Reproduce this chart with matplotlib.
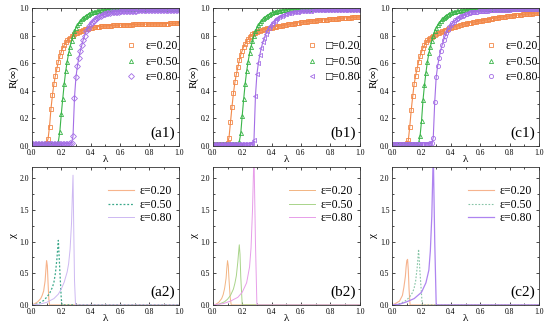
import matplotlib
matplotlib.use("Agg")
import matplotlib.pyplot as plt
from matplotlib.ticker import MultipleLocator, FormatStrFormatter

#################### データ ####################
# 上段の横軸 (0.01刻み)
lam_top = [i / 100 for i in range(101)]

eps_labels = ["ε=0.20", "ε=0.50", "ε=0.80"]
eps_labels_b = ["\u25a1=0.20", "\u25a1=0.50", "\u25a1=0.80"]

# (a1) R(inf)
a1_e20 = [0.01, 0.01, 0.01, 0.01, 0.01, 0.01, 0.01, 0.01, 0.01, 0.01,
          0.02, 0.05, 0.14, 0.27, 0.37, 0.45, 0.51, 0.56, 0.61, 0.65,
          0.68, 0.71, 0.73, 0.75, 0.765, 0.775, 0.785, 0.795, 0.80, 0.81,
          0.815, 0.82, 0.826, 0.831, 0.836, 0.840, 0.844, 0.847, 0.850, 0.853,
          0.855, 0.857, 0.859, 0.861, 0.862, 0.864, 0.865, 0.866, 0.867, 0.868,
          0.869, 0.870, 0.871, 0.872, 0.872, 0.873, 0.874, 0.874, 0.875, 0.875,
          0.876, 0.876, 0.877, 0.877, 0.878, 0.878, 0.879, 0.879, 0.879, 0.880,
          0.880, 0.881, 0.881, 0.881, 0.882, 0.882, 0.882, 0.883, 0.883, 0.883,
          0.884, 0.884, 0.884, 0.885, 0.885, 0.885, 0.885, 0.886, 0.886, 0.886,
          0.887, 0.887, 0.887, 0.887, 0.888, 0.888, 0.888, 0.888, 0.889, 0.889, 0.889]
a1_e50 = [0.01, 0.01, 0.01, 0.01, 0.01, 0.01, 0.01, 0.01, 0.01, 0.01,
          0.01, 0.01, 0.01, 0.01, 0.01, 0.01, 0.01, 0.012, 0.03, 0.10,
          0.23, 0.34, 0.45, 0.54, 0.61, 0.67, 0.72, 0.76, 0.80, 0.83,
          0.855, 0.875, 0.89, 0.905, 0.918, 0.928, 0.937, 0.945, 0.952, 0.958,
          0.963, 0.967, 0.971, 0.974, 0.977, 0.979, 0.981, 0.983, 0.985, 0.986,
          0.987, 0.988, 0.989, 0.990, 0.990, 0.991, 0.991, 0.992, 0.992, 0.992,
          0.993, 0.993, 0.993, 0.993, 0.993, 0.993, 0.993, 0.993, 0.993, 0.993,
          0.993, 0.993, 0.994, 0.994, 0.994, 0.994, 0.994, 0.994, 0.994, 0.994,
          0.994, 0.994, 0.994, 0.994, 0.995, 0.995, 0.995, 0.995, 0.995, 0.995,
          0.995, 0.995, 0.995, 0.995, 0.995, 0.995, 0.995, 0.995, 0.995, 0.995, 0.995]
a1_e80 = [0.01, 0.01, 0.01, 0.01, 0.01, 0.01, 0.01, 0.01, 0.01, 0.01,
          0.01, 0.01, 0.01, 0.01, 0.01, 0.01, 0.01, 0.01, 0.01, 0.01,
          0.012, 0.013, 0.014, 0.015, 0.016, 0.017, 0.019, 0.022, 0.07, 0.35,
          0.50, 0.58, 0.64, 0.69, 0.73, 0.77, 0.80, 0.83, 0.85, 0.87,
          0.885, 0.897, 0.908, 0.918, 0.926, 0.933, 0.939, 0.944, 0.949, 0.953,
          0.957, 0.960, 0.963, 0.965, 0.967, 0.969, 0.971, 0.972, 0.973, 0.974,
          0.975, 0.976, 0.977, 0.978, 0.978, 0.979, 0.979, 0.980, 0.980, 0.981,
          0.981, 0.981, 0.982, 0.982, 0.982, 0.982, 0.983, 0.983, 0.983, 0.983,
          0.983, 0.984, 0.984, 0.984, 0.984, 0.984, 0.984, 0.985, 0.985, 0.985,
          0.985, 0.985, 0.985, 0.985, 0.985, 0.985, 0.985, 0.985, 0.985, 0.985, 0.985]

# (b1) R(inf)
b1_e20 = [0.01, 0.01, 0.01, 0.01, 0.01, 0.01, 0.01, 0.01, 0.01, 0.01,
          0.02, 0.06, 0.17, 0.28, 0.38, 0.46, 0.52, 0.57, 0.62, 0.66,
          0.69, 0.72, 0.74, 0.76, 0.775, 0.79, 0.80, 0.81, 0.815, 0.82,
          0.825, 0.83, 0.834, 0.838, 0.842, 0.845, 0.848, 0.851, 0.854, 0.856,
          0.858, 0.860, 0.862, 0.864, 0.866, 0.868, 0.870, 0.872, 0.874, 0.876,
          0.878, 0.880, 0.882, 0.884, 0.886, 0.887, 0.889, 0.890, 0.892, 0.893,
          0.895, 0.896, 0.898, 0.899, 0.900, 0.902, 0.903, 0.904, 0.905, 0.906,
          0.907, 0.909, 0.910, 0.911, 0.912, 0.913, 0.914, 0.915, 0.916, 0.917,
          0.918, 0.919, 0.920, 0.921, 0.922, 0.923, 0.924, 0.925, 0.926, 0.927,
          0.928, 0.928, 0.929, 0.930, 0.930, 0.931, 0.932, 0.932, 0.933, 0.934, 0.935]
b1_e50 = [0.01, 0.01, 0.01, 0.01, 0.01, 0.01, 0.01, 0.01, 0.01, 0.01,
          0.01, 0.01, 0.01, 0.01, 0.01, 0.01, 0.01, 0.012, 0.03, 0.09,
          0.22, 0.34, 0.45, 0.54, 0.61, 0.67, 0.72, 0.76, 0.80, 0.83,
          0.855, 0.875, 0.89, 0.905, 0.918, 0.928, 0.937, 0.945, 0.952, 0.958,
          0.963, 0.967, 0.971, 0.974, 0.977, 0.979, 0.981, 0.983, 0.985, 0.986,
          0.987, 0.988, 0.989, 0.990, 0.990, 0.991, 0.991, 0.992, 0.992, 0.992,
          0.993, 0.993, 0.993, 0.993, 0.993, 0.993, 0.993, 0.993, 0.993, 0.993,
          0.993, 0.993, 0.994, 0.994, 0.994, 0.994, 0.994, 0.994, 0.994, 0.994,
          0.994, 0.994, 0.994, 0.994, 0.995, 0.995, 0.995, 0.995, 0.995, 0.995,
          0.995, 0.995, 0.995, 0.995, 0.995, 0.995, 0.995, 0.995, 0.995, 0.995, 0.995]
b1_e80 = [0.01, 0.01, 0.01, 0.01, 0.01, 0.01, 0.01, 0.01, 0.01, 0.01,
          0.01, 0.01, 0.01, 0.01, 0.01, 0.01, 0.01, 0.01, 0.01, 0.01,
          0.012, 0.013, 0.014, 0.015, 0.016, 0.017, 0.019, 0.022, 0.04, 0.36,
          0.52, 0.60, 0.66, 0.71, 0.75, 0.78, 0.81, 0.835, 0.855, 0.87,
          0.885, 0.897, 0.908, 0.918, 0.926, 0.933, 0.939, 0.945, 0.950, 0.954,
          0.958, 0.961, 0.964, 0.966, 0.968, 0.970, 0.972, 0.973, 0.974, 0.975,
          0.976, 0.977, 0.978, 0.979, 0.980, 0.980, 0.981, 0.981, 0.982, 0.982,
          0.983, 0.983, 0.983, 0.984, 0.984, 0.984, 0.984, 0.985, 0.985, 0.985,
          0.985, 0.986, 0.986, 0.986, 0.986, 0.986, 0.986, 0.987, 0.987, 0.987,
          0.987, 0.987, 0.987, 0.987, 0.987, 0.987, 0.987, 0.987, 0.987, 0.987, 0.987]

# (c1) R(inf)
c1_e20 = [0.01, 0.01, 0.01, 0.01, 0.01, 0.01, 0.01, 0.01, 0.01, 0.01,
          0.02, 0.04, 0.14, 0.26, 0.36, 0.45, 0.51, 0.56, 0.61, 0.65,
          0.68, 0.71, 0.73, 0.75, 0.765, 0.775, 0.785, 0.792, 0.798, 0.804,
          0.81, 0.815, 0.82, 0.825, 0.83, 0.835, 0.839, 0.843, 0.847, 0.851,
          0.855, 0.859, 0.862, 0.865, 0.868, 0.871, 0.874, 0.877, 0.880, 0.883,
          0.886, 0.888, 0.890, 0.892, 0.894, 0.896, 0.898, 0.900, 0.902, 0.904,
          0.906, 0.908, 0.910, 0.912, 0.914, 0.916, 0.918, 0.920, 0.922, 0.924,
          0.926, 0.928, 0.930, 0.931, 0.933, 0.934, 0.936, 0.937, 0.939, 0.940,
          0.942, 0.943, 0.944, 0.946, 0.947, 0.948, 0.949, 0.951, 0.952, 0.953,
          0.954, 0.955, 0.956, 0.957, 0.958, 0.959, 0.960, 0.961, 0.962, 0.963,
          0.964]
c1_e50 = [0.01, 0.01, 0.01, 0.01, 0.01, 0.01, 0.01, 0.01, 0.01, 0.01,
          0.01, 0.01, 0.01, 0.01, 0.01, 0.01, 0.01, 0.012, 0.02, 0.07,
          0.18, 0.33, 0.44, 0.53, 0.61, 0.67, 0.72, 0.76, 0.80, 0.83,
          0.855, 0.875, 0.89, 0.905, 0.918, 0.928, 0.937, 0.945, 0.952, 0.958,
          0.963, 0.967, 0.971, 0.974, 0.977, 0.979, 0.981, 0.983, 0.985, 0.986,
          0.987, 0.988, 0.989, 0.990, 0.990, 0.991, 0.991, 0.992, 0.992, 0.992,
          0.993, 0.993, 0.993, 0.993, 0.993, 0.993, 0.993, 0.993, 0.993, 0.993,
          0.993, 0.993, 0.994, 0.994, 0.994, 0.994, 0.994, 0.994, 0.994, 0.994,
          0.994, 0.994, 0.994, 0.994, 0.995, 0.995, 0.995, 0.995, 0.995, 0.995,
          0.995, 0.995, 0.995, 0.995, 0.995, 0.995, 0.995, 0.995, 0.995, 0.995, 0.995]
c1_e80 = [0.01, 0.01, 0.01, 0.01, 0.01, 0.01, 0.01, 0.01, 0.01, 0.01,
          0.01, 0.01, 0.01, 0.01, 0.01, 0.01, 0.01, 0.01, 0.01, 0.01,
          0.012, 0.013, 0.014, 0.015, 0.016, 0.017, 0.019, 0.022, 0.06, 0.32,
          0.50, 0.58, 0.64, 0.69, 0.73, 0.765, 0.795, 0.82, 0.84, 0.86,
          0.875, 0.888, 0.90, 0.91, 0.918, 0.925, 0.932, 0.938, 0.943, 0.948,
          0.953, 0.957, 0.961, 0.964, 0.967, 0.969, 0.971, 0.973, 0.974, 0.975,
          0.976, 0.977, 0.978, 0.979, 0.980, 0.981, 0.982, 0.983, 0.983, 0.984,
          0.985, 0.985, 0.986, 0.986, 0.987, 0.987, 0.987, 0.988, 0.988, 0.988,
          0.988, 0.989, 0.989, 0.989, 0.989, 0.989, 0.990, 0.990, 0.990, 0.990,
          0.990, 0.990, 0.990, 0.990, 0.990, 0.990, 0.990, 0.990, 0.990, 0.990, 0.990]

# (a2) chi
lam_a2_e20 = [0.0, 0.02, 0.04, 0.06, 0.07, 0.08, 0.09, 0.095, 0.10, 0.105, 0.11, 0.115, 0.12, 0.4, 0.7, 1.0]
chi_a2_e20 = [0.0, 0.02, 0.05, 0.10, 0.15, 0.22, 0.38, 0.55, 0.70, 0.62, 0.35, 0.10, 0.0, 0.0, 0.0, 0.0]
lam_a2_e50 = [0.0, 0.03, 0.06, 0.08, 0.10, 0.12, 0.14, 0.15, 0.16, 0.17, 0.18, 0.19, 0.20, 0.205, 0.4, 0.7, 1.0]
chi_a2_e50 = [0.0, 0.01, 0.04, 0.07, 0.12, 0.18, 0.28, 0.36, 0.50, 0.72, 1.02, 0.55, 0.10, 0.0, 0.0, 0.0, 0.0]
lam_a2_e80 = [0.0, 0.05, 0.10, 0.15, 0.18, 0.20, 0.22, 0.24, 0.25, 0.26, 0.27, 0.275, 0.28, 0.285, 0.29, 0.297, 0.5, 1.0]
chi_a2_e80 = [0.0, 0.01, 0.04, 0.10, 0.17, 0.25, 0.36, 0.52, 0.65, 0.88, 1.30, 1.70, 2.05, 1.20, 0.40, 0.0, 0.0, 0.0]

# (b2) chi
lam_b2_e20 = [0.0, 0.02, 0.04, 0.06, 0.07, 0.08, 0.09, 0.095, 0.10, 0.105, 0.11, 0.118, 0.125, 0.4, 0.7, 1.0]
chi_b2_e20 = [0.0, 0.01, 0.04, 0.10, 0.16, 0.26, 0.42, 0.58, 0.70, 0.62, 0.40, 0.12, 0.0, 0.0, 0.0, 0.0]
lam_b2_e50 = [0.0, 0.04, 0.08, 0.10, 0.12, 0.14, 0.15, 0.16, 0.17, 0.175, 0.18, 0.185, 0.19, 0.20, 0.4, 0.7, 1.0]
chi_b2_e50 = [0.0, 0.01, 0.05, 0.09, 0.15, 0.25, 0.34, 0.46, 0.68, 0.82, 0.95, 0.80, 0.45, 0.0, 0.0, 0.0, 0.0]
lam_b2_e80 = [0.0, 0.07, 0.12, 0.17, 0.20, 0.23, 0.25, 0.26, 0.27, 0.28, 0.29, 0.30, 0.5, 1.0]
chi_b2_e80 = [0.0, 0.02, 0.06, 0.12, 0.20, 0.35, 0.60, 0.90, 1.50, 2.40, 1.00, 0.0, 0.0, 0.0]

# (c2) chi
lam_c2_e20 = [0.0, 0.02, 0.05, 0.07, 0.08, 0.09, 0.095, 0.10, 0.105, 0.11, 0.115, 0.122, 0.4, 0.7, 1.0]
chi_c2_e20 = [0.0, 0.02, 0.06, 0.15, 0.28, 0.45, 0.60, 0.70, 0.72, 0.55, 0.25, 0.0, 0.0, 0.0, 0.0]
lam_c2_e50 = [0.0, 0.04, 0.08, 0.10, 0.12, 0.14, 0.15, 0.16, 0.17, 0.175, 0.18, 0.19, 0.205, 0.4, 0.7, 1.0]
chi_c2_e50 = [0.0, 0.01, 0.05, 0.08, 0.13, 0.20, 0.27, 0.38, 0.58, 0.72, 0.88, 0.50, 0.0, 0.0, 0.0, 0.0]
lam_c2_e80 = [0.0, 0.05, 0.10, 0.15, 0.20, 0.23, 0.25, 0.26, 0.27, 0.28, 0.29, 0.30, 0.5, 1.0]
chi_c2_e80 = [0.0, 0.01, 0.05, 0.10, 0.20, 0.35, 0.55, 0.85, 1.40, 2.40, 1.00, 0.0, 0.0, 0.0]

panel_top = ["(a1)", "(b1)", "(c1)"]
panel_bot = ["(a2)", "(b2)", "(c2)"]
################################################


plt.rcParams["font.family"] = ["Liberation Serif", "DejaVu Serif"]

C_OR = "#f2894a"
C_GR = "#3bb54a"
C_PU = "#a46ee6"


def SetAxes(ax, ymax, ystep, yminor):
    ax.set_xlim(0, 1)
    ax.set_ylim(0, ymax)
    ax.xaxis.set_major_locator(MultipleLocator(0.2))
    ax.xaxis.set_minor_locator(MultipleLocator(0.1))
    ax.yaxis.set_major_locator(MultipleLocator(ystep))
    ax.yaxis.set_minor_locator(MultipleLocator(yminor))
    ax.xaxis.set_major_formatter(FormatStrFormatter("%.1f"))
    ax.yaxis.set_major_formatter(FormatStrFormatter("%.1f"))
    ax.tick_params(which="both", direction="in", top=True, right=True,
                   labelsize=5.5, width=0.5, pad=2)
    ax.tick_params(which="major", length=2.5)
    ax.tick_params(which="minor", length=1.5)
    for s in ax.spines.values():
        s.set_linewidth(0.6)
        s.set_color("#333333")
    ax.set_xlabel("λ", fontsize=8, labelpad=-1)


def DrawTop(ax, ys, markers, labels, tag):
    cols = [C_OR, C_GR, C_PU]
    for y, m, c, lb in zip(ys, markers, cols, labels):
        ax.plot(lam_top, y, color=c, lw=0.8, marker=m, markersize=3.0,
                markerfacecolor="none", markeredgewidth=0.6, label=lb)
    SetAxes(ax, 1.0, 0.2, 0.1)
    ax.set_ylabel("R(∞)", fontsize=8, labelpad=1)
    leg = ax.legend(loc="center left", bbox_to_anchor=(0.57, 0.61), frameon=False,
                    fontsize=8.5, handlelength=1.2, handletextpad=0.6,
                    labelspacing=0.3, borderpad=0.2)
    for h in leg.get_lines():
        h.set_linestyle("none")
    ax.text(0.975, 0.04, tag, transform=ax.transAxes, ha="right",
            va="bottom", fontsize=11)


def DrawBottom(ax, curves, tag):
    for lam, chi, c, ls, lw in curves:
        ax.plot(lam, chi, color=c, ls=ls, lw=lw)
    SetAxes(ax, 2.18, 0.5, 0.25)
    ax.set_ylabel("χ", fontsize=8, labelpad=1)
    ax.legend(eps_labels, loc="upper right", bbox_to_anchor=(1.01, 0.93),
              frameon=False, fontsize=8.5, handlelength=2.2,
              handletextpad=0.5, labelspacing=0.15, borderpad=0.2)
    ax.text(0.975, 0.04, tag, transform=ax.transAxes, ha="right",
            va="bottom", fontsize=11)


def main():
    fig = plt.figure(figsize=(5.5, 3.3), dpi=100)

    lefts = [0.058, 0.387, 0.713]
    w = 0.267
    h = 0.418

    ax_a1 = fig.add_axes([lefts[0], 0.558, w, h])
    ax_b1 = fig.add_axes([lefts[1], 0.558, w, h])
    ax_c1 = fig.add_axes([lefts[2], 0.558, w, h])
    ax_a2 = fig.add_axes([lefts[0], 0.076, w, h])
    ax_b2 = fig.add_axes([lefts[1], 0.076, w, h])
    ax_c2 = fig.add_axes([lefts[2], 0.076, w, h])

    ########## 上段 ##########
    DrawTop(ax_a1, [a1_e20, a1_e50, a1_e80], ["s", "^", "D"], eps_labels, panel_top[0])
    DrawTop(ax_b1, [b1_e20, b1_e50, b1_e80], ["s", "^", "<"], eps_labels_b, panel_top[1])
    DrawTop(ax_c1, [c1_e20, c1_e50, c1_e80], ["s", "^", "o"], eps_labels, panel_top[2])

    ########## 下段 ##########
    DrawBottom(ax_a2, [(lam_a2_e20, chi_a2_e20, "#f7b48c", "-", 0.8),
                       (lam_a2_e50, chi_a2_e50, "#3aa88a", (0, (1.5, 1.5)), 0.9),
                       (lam_a2_e80, chi_a2_e80, "#cdb8f2", "-", 0.7)], panel_bot[0])
    DrawBottom(ax_b2, [(lam_b2_e20, chi_b2_e20, "#f2b482", "-", 0.7),
                       (lam_b2_e50, chi_b2_e50, "#a9d48a", "-", 0.7),
                       (lam_b2_e80, chi_b2_e80, "#e79de9", "-", 0.7)], panel_bot[1])
    DrawBottom(ax_c2, [(lam_c2_e20, chi_c2_e20, "#f6b38e", "-", 0.8),
                       (lam_c2_e50, chi_c2_e50, "#86c4a6", (0, (1.5, 1.5)), 0.8),
                       (lam_c2_e80, chi_c2_e80, "#ae84f0", "-", 0.9)], panel_bot[2])

    fig.savefig("out.png", dpi=100)


if __name__ == "__main__":
    main()
